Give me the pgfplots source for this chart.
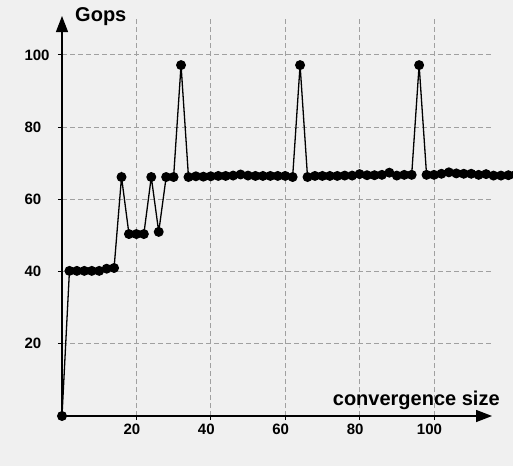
\documentclass[border=0pt]{standalone}
\usepackage{fontspec}
\setmainfont{Liberation Sans}
\usepackage{pgfplots}
\pgfplotsset{compat=1.18}
\usetikzlibrary{arrows.meta}
\definecolor{bg}{HTML}{F0F0F0}
\definecolor{gridc}{HTML}{A0A0A0}

\begin{document}
\begin{tikzpicture}
\fill[bg] (-62pt,-50pt) rectangle (451pt,416pt);
\begin{scope}
\clip (-62pt,-50pt) rectangle (451pt,416pt);
\begin{axis}[
    x=3.72pt, y=3.61pt,
    xmin=0, xmax=115.6,
    ymin=0, ymax=110.8,
    axis lines=left,
    axis line style={line width=1.3pt, -{Triangle[length=16pt,width=12pt]}},
    xtick={20,40,60,80,100},
    ytick={20,40,60,80,100},
    grid=major,
    major grid style={gridc, dash pattern=on 5pt off 3pt, line width=1pt},
    tick align=outside,
    major tick length=4pt,
    tick style={black, line width=1pt},
    /pgf/number format/assume math mode=true,
    ticklabel style={font=\fontsize{15}{15}\selectfont\bfseries},
    xticklabel style={xshift=-4.5pt},
    yticklabel style={anchor=west, xshift=-37pt},
    clip=false,
]
\addplot[black, line width=1.3pt, mark=*, mark size=4.3pt,
         mark options={fill=black, solid}] coordinates {
    (0,0) (2,40.2) (4,40.2) (6,40.2) (8,40.2) (10,40.2) (12,40.8) (14,41)
    (16,66.2) (18,50.4) (20,50.4) (22,50.4) (24,66.2) (26,51) (28,66.2)
    (30,66.2) (32,97.2) (34,66.2) (36,66.4) (38,66.3) (40,66.4) (42,66.5)
    (44,66.5) (46,66.6) (48,66.9) (50,66.6) (52,66.5) (54,66.5) (56,66.5)
    (58,66.5) (60,66.5) (62,66.2) (64,97.2) (66,66.2) (68,66.5) (70,66.5)
    (72,66.5) (74,66.5) (76,66.6) (78,66.6) (80,67.0) (82,66.7) (84,66.7)
    (86,66.8) (88,67.4) (90,66.6) (92,66.8) (94,66.8) (96,97.2) (98,66.8)
    (100,66.8) (102,67.1) (104,67.5) (106,67.2) (108,67.1) (110,67.1)
    (112,66.8) (114,67.0) (116,66.6) (118,66.6) (120,66.7) (122,66.8)
};
\node[anchor=base east, inner sep=0pt, font=\fontsize{20}{20}\selectfont\bfseries]
    at (axis cs:117.7,2.8) {convergence size};
\node[anchor=base west, inner sep=0pt, font=\fontsize{20}{20}\selectfont\bfseries]
    at (axis cs:3.5,109.2) {Gops};
\end{axis}
\end{scope}
\pgfresetboundingbox
\useasboundingbox (-62pt,-50pt) rectangle (451pt,416pt);
\end{tikzpicture}
\end{document}
